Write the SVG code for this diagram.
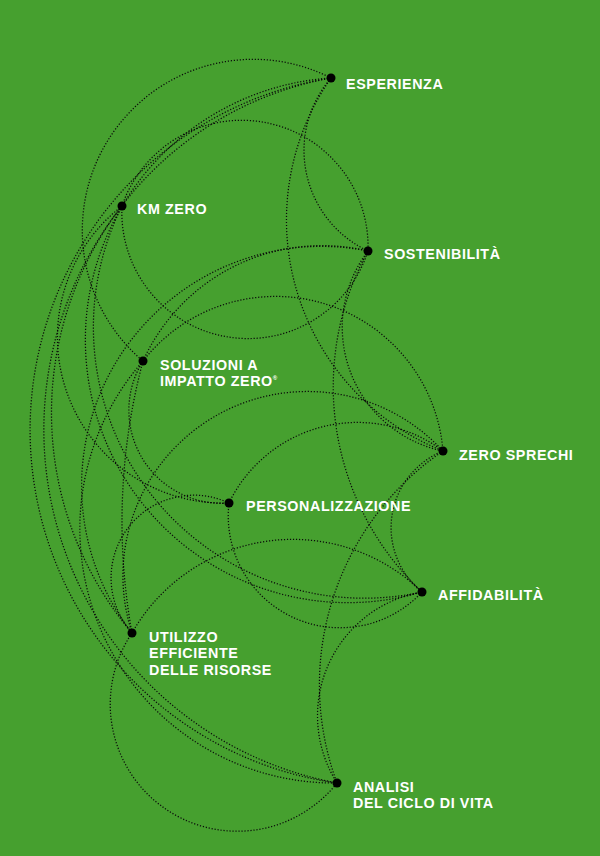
<svg xmlns="http://www.w3.org/2000/svg" width="600" height="856" viewBox="0 0 600 856">
<style>
.c{fill:none;stroke:#0a0a0a;stroke-width:1.25;stroke-dasharray:1.2 1.8}
.d{fill:#000}
.t{fill:#fff;font-family:"Liberation Sans",Arial,sans-serif;font-weight:bold;font-size:14.3px;letter-spacing:0.6px}
</style>
<rect width="600" height="856" fill="#46a02f"/>
<g id="connectors">
<path class="c" d="M331 78 A110.9 110.9 0 0 0 368 251"/>
<path class="c" d="M331 78 A248.7 248.7 0 0 0 443 451"/>
<path class="c" d="M331 78 A171 171 0 0 0 143 361"/>
<path class="c" d="M331 78 A356.4 356.4 0 0 0 337 783"/>
<path class="c" d="M122 206 A359.4 359.4 0 0 0 337 783"/>
<path class="c" d="M331 78 A340.6 340.6 0 0 0 132 633"/>
<path class="c" d="M331 78 A262.6 262.6 0 1 0 422 592"/>
<path class="c" d="M122 206 A271 271 0 0 0 422 592"/>
<path class="c" d="M122 206 A126.4 126.4 0 0 1 368 251"/>
<path class="c" d="M122 206 A126.1 126.1 0 0 0 368 251"/>
<path class="c" d="M368 251 A196.7 196.7 0 0 0 143 361"/>
<path class="c" d="M368 251 A239.6 239.6 0 0 0 132 633"/>
<path class="c" d="M368 251 A126.2 126.2 0 0 0 443 451"/>
<path class="c" d="M368 251 A282 282 0 0 0 422 592"/>
<path class="c" d="M143 361 A168.1 168.1 0 0 1 443 451"/>
<path class="c" d="M143 361 A93 93 0 0 0 229 503"/>
<path class="c" d="M143 361 A625 625 0 0 0 132 633"/>
<path class="c" d="M143 361 A254.3 254.3 0 0 0 337 783"/>
<path class="c" d="M122 206 A165.8 165.8 0 0 0 229 503"/>
<path class="c" d="M229 503 A142.6 142.6 0 0 1 443 451"/>
<path class="c" d="M229 503 A82.8 82.8 0 0 0 132 633"/>
<path class="c" d="M229 503 A111.8 111.8 0 0 0 422 592"/>
<path class="c" d="M443 451 A82.5 82.5 0 0 0 422 592"/>
<path class="c" d="M443 451 A283 283 0 0 0 337 783"/>
<path class="c" d="M422 592 A125.6 125.6 0 0 0 337 783"/>
<path class="c" d="M132 633 A184.4 184.4 0 0 1 443 451"/>
<path class="c" d="M132 633 A184.9 184.9 0 0 1 422 592"/>
<path class="c" d="M132 633 A127.1 127.1 0 0 0 337 783"/>
</g>
<g id="esperienza"><circle class="d" cx="331" cy="78" r="4.5"/><text class="t" x="346" y="89">ESPERIENZA</text></g>
<g id="km-zero"><circle class="d" cx="122" cy="206" r="4.5"/><text class="t" x="137" y="214">KM ZERO</text></g>
<g id="sostenibilita"><circle class="d" cx="368" cy="251" r="4.5"/><text class="t" x="384" y="259">SOSTENIBILITÀ</text></g>
<g id="soluzioni"><circle class="d" cx="143" cy="361" r="4.5"/><text class="t" x="160" y="370">SOLUZIONI A</text><text class="t" x="160" y="386">IMPATTO ZERO<tspan font-size="6" dy="-6">®</tspan></text></g>
<g id="zero-sprechi"><circle class="d" cx="443" cy="451" r="4.5"/><text class="t" x="459" y="460">ZERO SPRECHI</text></g>
<g id="personalizzazione"><circle class="d" cx="229" cy="503" r="4.5"/><text class="t" x="246" y="511">PERSONALIZZAZIONE</text></g>
<g id="affidabilita"><circle class="d" cx="422" cy="592" r="4.5"/><text class="t" x="438" y="600">AFFIDABILITÀ</text></g>
<g id="utilizzo"><circle class="d" cx="132" cy="633" r="4.5"/><text class="t" x="149" y="642">UTILIZZO</text><text class="t" x="149" y="658">EFFICIENTE</text><text class="t" x="149" y="675">DELLE RISORSE</text></g>
<g id="analisi"><circle class="d" cx="337" cy="783" r="4.5"/><text class="t" x="353" y="792">ANALISI</text><text class="t" x="353" y="808">DEL CICLO DI VITA</text></g>
</svg>
